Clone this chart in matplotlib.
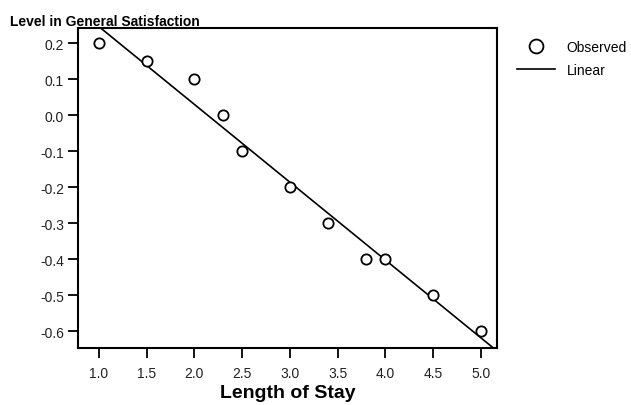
import numpy as np
import matplotlib
matplotlib.use("Agg")
import matplotlib.pyplot as plt

plt.rcParams['font.family'] = ['Liberation Sans', 'DejaVu Sans']

length_of_stay = [1.0, 1.5, 2.0, 2.3, 2.5, 3.0, 3.4, 3.8, 4.0, 4.5, 5.0]
satisfaction = [0.2, 0.15, 0.1, 0.0, -0.1, -0.2, -0.3, -0.4, -0.4, -0.5, -0.6]
x_ticks = [1.0, 1.5, 2.0, 2.5, 3.0, 3.5, 4.0, 4.5, 5.0]
y_ticks = [0.2, 0.1, 0.0, -0.1, -0.2, -0.3, -0.4, -0.5, -0.6]

x = np.array(length_of_stay)
y = np.array(satisfaction)
slope, intercept = np.polyfit(x, y, 1)

fig = plt.figure(figsize=(6.31, 4.06), dpi=100)
ax = fig.add_axes([0.1236, 0.1404, 0.664, 0.7882])

xlim = (0.78, 5.17)
ylim = (-0.647, 0.242)
xf = np.array([0.9, 5.3])
ax.plot(xf, intercept + slope * xf, color='black', lw=1.2, label='Linear', zorder=2)
ax.plot(x, y, linestyle='none', marker='o', markersize=7.4, markerfacecolor='white',
        markeredgecolor='black', markeredgewidth=1.3, label='Observed', zorder=3)
ax.set_xlim(*xlim)
ax.set_ylim(*ylim)

ax.set_xticks(x_ticks)
ax.set_xticklabels([f"{t:.1f}" for t in x_ticks])
ax.set_yticks(y_ticks)
ax.set_yticklabels([f"{t:.1f}" for t in y_ticks])
ax.tick_params(direction='out', length=7, width=1.3, labelsize=10, pad=3, color='black',
               labelcolor='#222222')
ax.tick_params(axis='x', pad=6)

for s in ax.spines.values():
    s.set_linewidth(1.5)

ax.set_xlabel('Length of Stay', fontsize=14, fontweight='bold', labelpad=3)
fig.text(10 / 631, 1 - 26 / 406, 'Level in General Satisfaction', fontsize=10,
         fontweight='bold', ha='left', va='baseline')

handles, labels = ax.get_legend_handles_labels()
order = [1, 0]
leg = ax.legend([handles[i] for i in order], [labels[i] for i in order],
                loc='upper left', bbox_to_anchor=(511 / 631, 1 - 35 / 406),
                bbox_transform=fig.transFigure, frameon=False, fontsize=10,
                handlelength=2.8, handletextpad=0.8, labelspacing=0.7, borderaxespad=0,
                markerscale=1.35)

fig.savefig('out.png', dpi=100)
